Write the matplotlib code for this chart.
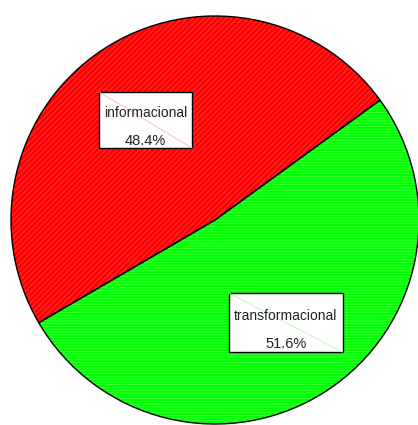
import matplotlib.pyplot as plt
from matplotlib.patches import Rectangle

labels = ["informacional", "transformacional"]
values = [48.4, 51.6]
pct_text = ["48.4%", "51.6%"]
colors = ["#ff0000", "#00ff00"]
stripe_colors = ["#ff4a4a", "#4aff4a"]
hatches = ["//////", "------"]

plt.rcParams['font.family'] = ['Liberation Sans', 'DejaVu Sans']
plt.rcParams['hatch.linewidth'] = 0.5

fig = plt.figure(figsize=(4.18, 4.25), dpi=100)
ax = fig.add_axes([11 / 418, 1 / 425, 408 / 418, 408 / 425])

# striped fill
wedges, _ = ax.pie(values, colors=colors, startangle=36, counterclock=True,
                   wedgeprops=dict(linewidth=0))
for w, sc, h in zip(wedges, stripe_colors, hatches):
    w.set_edgecolor(sc)
    w.set_hatch(h)
# black outlines on top
outl, _ = ax.pie(values, startangle=36, counterclock=True,
                 wedgeprops=dict(facecolor="none", edgecolor="black", linewidth=1.0))
ax.set_aspect("auto")
ax.set_xlim(-1, 1)
ax.set_ylim(-1, 1)
ax.axis("off")

# label boxes (axes fraction)
boxes = [(0.216, 0.676, 0.228, 0.138), (0.534, 0.176, 0.279, 0.145)]
line_col = ["#ffb0b0", "#b0ffb0"]
name_y = [0.762, 0.265]
pct_y = [0.694, 0.196]
for i in range(2):
    x0, y0, w, h = boxes[i]
    ax.add_patch(Rectangle((x0, y0), w, h, transform=ax.transAxes,
                           facecolor="white", edgecolor="black", linewidth=1.0, zorder=5))
    ax.plot([x0, x0 + w], [y0 + h, y0], transform=ax.transAxes,
            color=line_col[i], linewidth=0.6, zorder=6)
    cx = x0 + w / 2
    ax.text(cx, name_y[i], labels[i], transform=ax.transAxes, ha="center", va="center",
            fontsize=10, color="#222222", zorder=7)
    ax.text(cx, pct_y[i], pct_text[i], transform=ax.transAxes, ha="center", va="center",
            fontsize=10.5, color="#222222", zorder=7)

fig.savefig("out.png", dpi=100)
